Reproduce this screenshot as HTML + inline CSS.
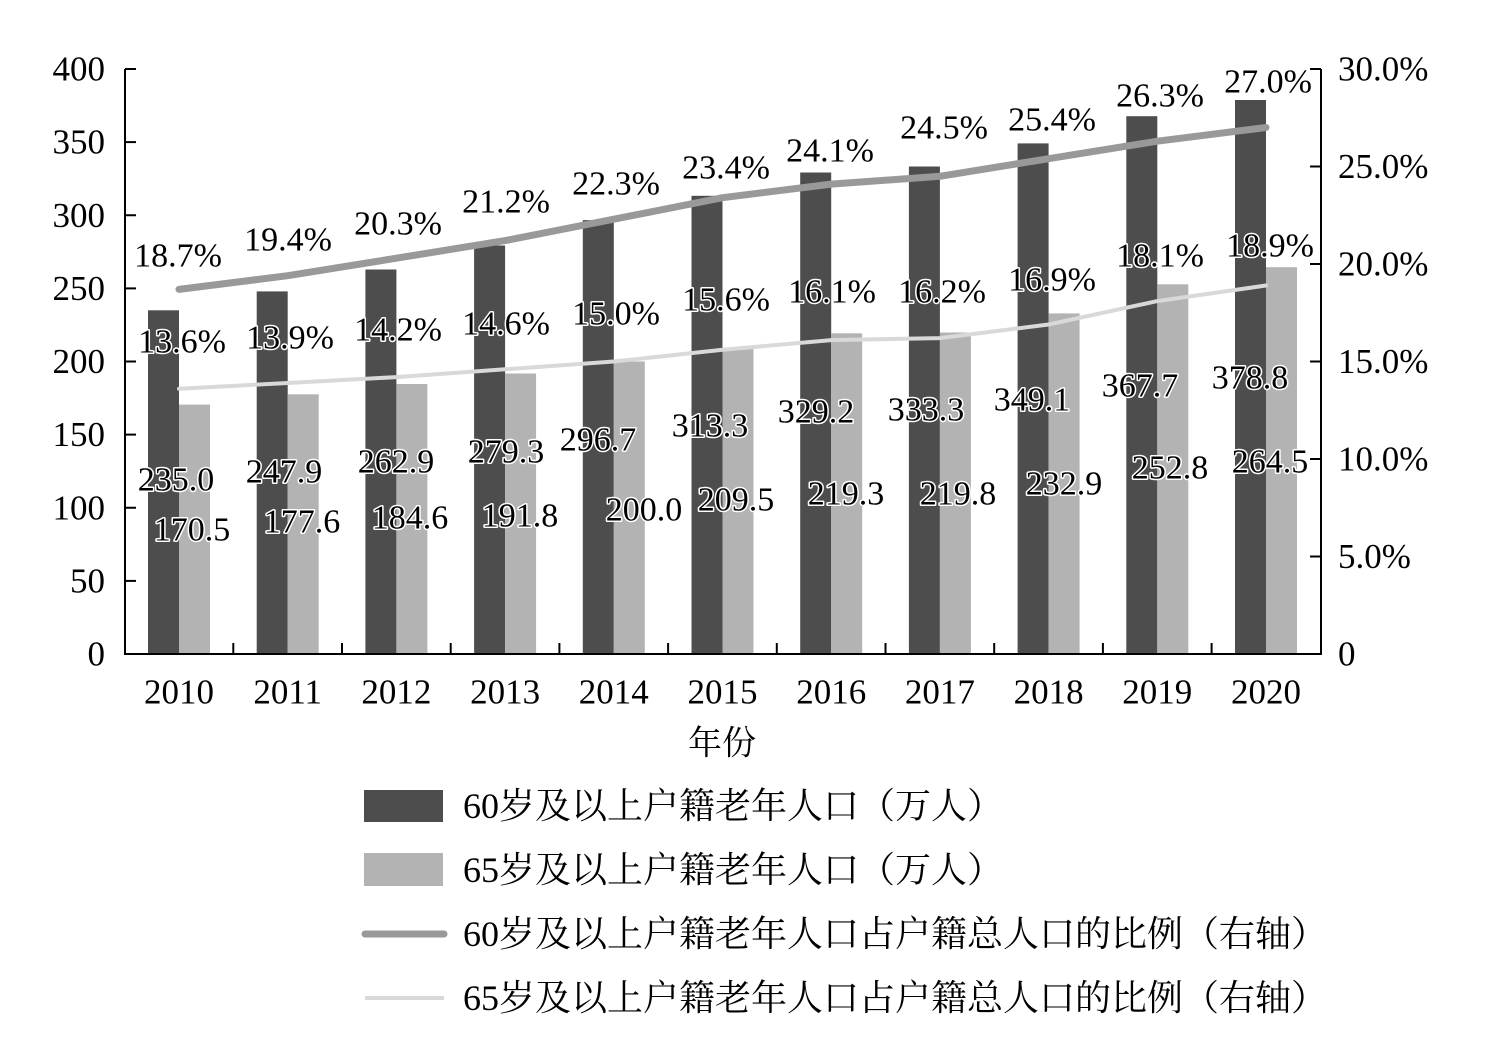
<!DOCTYPE html>
<html><head><meta charset="utf-8"><style>
body{margin:0;background:#fff}
svg text{font-family:"Liberation Serif","Noto Serif CJK SC",serif;fill:#000}
.lb{font-size:34px;text-anchor:middle;dominant-baseline:central;stroke:#fff;stroke-width:3px;paint-order:stroke;stroke-linejoin:round}
.ax{font-size:35px;dominant-baseline:central}
.t{stroke:#000;stroke-width:2}
</style></head><body>
<svg width="1491" height="1040" xmlns="http://www.w3.org/2000/svg">
<g fill="#4d4d4d">
<rect x="148" y="310.3" width="31" height="343.7"/>
<rect x="256.7" y="291.4" width="31" height="362.6"/>
<rect x="365.4" y="269.5" width="31" height="384.5"/>
<rect x="474.1" y="245.5" width="31" height="408.5"/>
<rect x="582.8" y="220.1" width="31" height="433.9"/>
<rect x="691.5" y="195.8" width="31" height="458.2"/>
<rect x="800.2" y="172.5" width="31" height="481.5"/>
<rect x="908.9" y="166.5" width="31" height="487.5"/>
<rect x="1017.6" y="143.4" width="31" height="510.6"/>
<rect x="1126.3" y="116.2" width="31" height="537.8"/>
<rect x="1235" y="100" width="31" height="554"/>
</g>
<g fill="#b3b3b3">
<rect x="179" y="404.6" width="31" height="249.4"/>
<rect x="287.7" y="394.3" width="31" height="259.7"/>
<rect x="396.4" y="384" width="31" height="270"/>
<rect x="505.1" y="373.5" width="31" height="280.5"/>
<rect x="613.8" y="361.5" width="31" height="292.5"/>
<rect x="722.5" y="347.6" width="31" height="306.4"/>
<rect x="831.2" y="333.3" width="31" height="320.7"/>
<rect x="939.9" y="332.5" width="31" height="321.5"/>
<rect x="1048.6" y="313.4" width="31" height="340.6"/>
<rect x="1157.3" y="284.3" width="31" height="369.7"/>
<rect x="1266" y="267.2" width="31" height="386.8"/>
</g>
<polyline points="179,289.4 287.7,275.7 396.4,258.2 505.1,240.6 613.8,219.2 722.5,197.7 831.2,184.1 939.9,176.3 1048.6,158.7 1157.3,141.2 1266,127.5" fill="none" stroke="#999" stroke-width="7" stroke-linecap="round" stroke-linejoin="round"/>
<polyline points="179,388.8 287.7,383 396.4,377.1 505.1,369.3 613.8,361.5 722.5,349.8 831.2,340.1 939.9,338.1 1048.6,324.5 1157.3,301.1 1266,285.5" fill="none" stroke="#d9d9d9" stroke-width="4" stroke-linecap="round"/>
<path d="M125 69V654H1321V69" fill="none" stroke="#000" stroke-width="2"/>
<g class="t">
<line x1="125" x2="136" y1="654" y2="654"/><line x1="125" x2="136" y1="580.9" y2="580.9"/><line x1="125" x2="136" y1="507.75" y2="507.75"/><line x1="125" x2="136" y1="434.6" y2="434.6"/><line x1="125" x2="136" y1="361.5" y2="361.5"/><line x1="125" x2="136" y1="288.4" y2="288.4"/><line x1="125" x2="136" y1="215.25" y2="215.25"/><line x1="125" x2="136" y1="142.1" y2="142.1"/><line x1="125" x2="136" y1="69" y2="69"/>
<line x1="1310" x2="1321" y1="556.5" y2="556.5"/><line x1="1310" x2="1321" y1="459" y2="459"/><line x1="1310" x2="1321" y1="361.5" y2="361.5"/><line x1="1310" x2="1321" y1="264" y2="264"/><line x1="1310" x2="1321" y1="166.5" y2="166.5"/><line x1="1310" x2="1321" y1="69" y2="69"/>
<line x1="233.3" x2="233.3" y1="643" y2="654"/><line x1="342" x2="342" y1="643" y2="654"/><line x1="450.7" x2="450.7" y1="643" y2="654"/><line x1="559.4" x2="559.4" y1="643" y2="654"/><line x1="668.1" x2="668.1" y1="643" y2="654"/><line x1="776.8" x2="776.8" y1="643" y2="654"/><line x1="885.5" x2="885.5" y1="643" y2="654"/><line x1="994.2" x2="994.2" y1="643" y2="654"/><line x1="1102.9" x2="1102.9" y1="643" y2="654"/><line x1="1211.6" x2="1211.6" y1="643" y2="654"/>
</g>
<g class="ax" text-anchor="end">
<text x="105" y="654">0</text><text x="105" y="580.9">50</text><text x="105" y="507.75">100</text><text x="105" y="434.6">150</text><text x="105" y="361.5">200</text><text x="105" y="288.4">250</text><text x="105" y="215.25">300</text><text x="105" y="142.1">350</text><text x="105" y="69">400</text>
</g>
<g class="ax">
<text x="1338" y="654">0</text><text x="1338" y="556.5">5.0%</text><text x="1338" y="459">10.0%</text><text x="1338" y="361.5">15.0%</text><text x="1338" y="264">20.0%</text><text x="1338" y="166.5">25.0%</text><text x="1338" y="69">30.0%</text>
</g>
<g class="ax" text-anchor="middle">
<text x="179" y="692">2010</text><text x="287.7" y="692">2011</text><text x="396.4" y="692">2012</text><text x="505.1" y="692">2013</text><text x="613.8" y="692">2014</text><text x="722.5" y="692">2015</text><text x="831.2" y="692">2016</text><text x="939.9" y="692">2017</text><text x="1048.6" y="692">2018</text><text x="1157.3" y="692">2019</text><text x="1266" y="692">2020</text>
</g>
<g>
<text class="lb" x="178" y="256">18.7%</text><text class="lb" x="288" y="240">19.4%</text><text class="lb" x="398" y="224">20.3%</text><text class="lb" x="506" y="202">21.2%</text><text class="lb" x="616" y="184">22.3%</text><text class="lb" x="726" y="168">23.4%</text><text class="lb" x="830" y="151">24.1%</text><text class="lb" x="944" y="128">24.5%</text><text class="lb" x="1052" y="120">25.4%</text><text class="lb" x="1160" y="96">26.3%</text><text class="lb" x="1268" y="82">27.0%</text>
<text class="lb" x="182" y="342">13.6%</text><text class="lb" x="290" y="338">13.9%</text><text class="lb" x="398" y="330">14.2%</text><text class="lb" x="506" y="324">14.6%</text><text class="lb" x="616" y="314">15.0%</text><text class="lb" x="726" y="300">15.6%</text><text class="lb" x="832" y="292">16.1%</text><text class="lb" x="942" y="292">16.2%</text><text class="lb" x="1052" y="280">16.9%</text><text class="lb" x="1160" y="256">18.1%</text><text class="lb" x="1270" y="246">18.9%</text>
<text class="lb" x="176" y="480">235.0</text><text class="lb" x="284" y="472">247.9</text><text class="lb" x="396" y="462">262.9</text><text class="lb" x="506" y="452">279.3</text><text class="lb" x="598" y="440">296.7</text><text class="lb" x="710" y="426">313.3</text><text class="lb" x="816" y="412">329.2</text><text class="lb" x="926" y="410">333.3</text><text class="lb" x="1032" y="400">349.1</text><text class="lb" x="1140" y="386">367.7</text><text class="lb" x="1250" y="378">378.8</text>
<text class="lb" x="192" y="530">170.5</text><text class="lb" x="302" y="522">177.6</text><text class="lb" x="410" y="518">184.6</text><text class="lb" x="520" y="516">191.8</text><text class="lb" x="644" y="510">200.0</text><text class="lb" x="736" y="500">209.5</text><text class="lb" x="846" y="494">219.3</text><text class="lb" x="958" y="494">219.8</text><text class="lb" x="1064" y="484">232.9</text><text class="lb" x="1170" y="468">252.8</text><text class="lb" x="1270" y="462">264.5</text>
</g>
<text x="722" y="744" font-size="34" text-anchor="middle" dominant-baseline="central">年份</text>
<rect x="364" y="790" width="79" height="32" fill="#4d4d4d"/>
<rect x="364" y="853" width="79" height="33" fill="#b3b3b3"/>
<line x1="365" x2="444" y1="934" y2="934" stroke="#999" stroke-width="7" stroke-linecap="round"/>
<line x1="365" x2="444" y1="998" y2="998" stroke="#d9d9d9" stroke-width="4"/>
<text x="463" y="806" font-size="36" dominant-baseline="central">60岁及以上户籍老年人口（万人）</text>
<text x="463" y="870" font-size="36" dominant-baseline="central">65岁及以上户籍老年人口（万人）</text>
<text x="463" y="934" font-size="36" dominant-baseline="central">60岁及以上户籍老年人口占户籍总人口的比例（右轴）</text>
<text x="463" y="998" font-size="36" dominant-baseline="central">65岁及以上户籍老年人口占户籍总人口的比例（右轴）</text>
</svg>
</body></html>
